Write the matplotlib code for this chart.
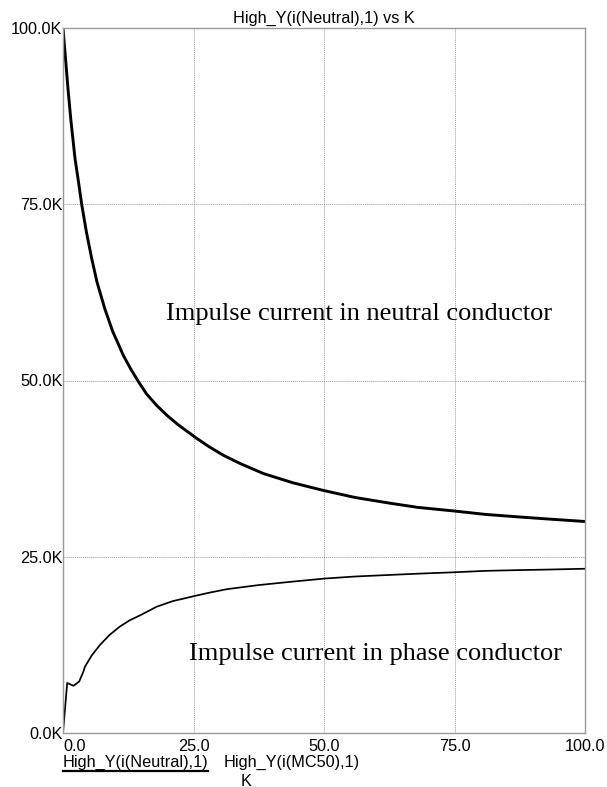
import matplotlib
matplotlib.use("Agg")
import matplotlib.pyplot as plt
from matplotlib.lines import Line2D

# ---- data (K, value in thousands) ----
neutral_k = [0.0, 0.5, 1.0, 1.5, 2.3, 3.0, 3.6, 4.5, 5.5, 6.5, 8.0, 9.5, 11.6, 13.0,
             14.4, 16.0, 17.9, 20.0, 22.1, 25.6, 28.0, 30.7, 34.0, 38.4, 44.0, 49.9,
             56.0, 62.6, 68.0, 74.8, 81.0, 88.2, 94.0, 100.0]
neutral_v = [100.0, 95.5, 91.0, 87.0, 81.5, 78.0, 74.9, 71.0, 67.3, 64.0, 60.2, 57.0,
             53.5, 51.6, 49.9, 48.1, 46.5, 45.0, 43.7, 41.8, 40.6, 39.4, 38.2, 36.8,
             35.5, 34.4, 33.4, 32.6, 32.0, 31.5, 31.0, 30.6, 30.3, 30.0]

phase_k = [0.0, 0.8, 2.0, 3.1, 3.9, 4.2, 5.5, 7.1, 8.9, 10.9, 12.8, 14.8, 17.9, 21.0,
           25.0, 28.0, 31.4, 34.5, 37.7, 43.0, 50.0, 56.0, 62.0, 68.0, 75.0, 81.0,
           87.0, 94.0, 100.0]
phase_v = [0.0, 7.1, 6.7, 7.3, 8.7, 9.4, 11.0, 12.5, 13.9, 15.1, 16.0, 16.7, 17.9, 18.7,
           19.4, 19.9, 20.4, 20.7, 21.0, 21.4, 21.9, 22.2, 22.4, 22.6, 22.8, 23.0,
           23.1, 23.2, 23.3]

x_ticks = [0, 25, 50, 75, 100]
x_labels = ["0.0", "25.0", "50.0", "75.0", "100.0"]
y_ticks = [0, 25, 50, 75, 100]
y_labels = ["0.0K", "25.0K", "50.0K", "75.0K", "100.0K"]

title = "High_Y(i(Neutral),1) vs K"
legend_labels = ["High_Y(i(Neutral),1)", "High_Y(i(MC50),1)"]
xlabel = "K"
ann_neutral = "Impulse current in neutral conductor"
ann_phase = "Impulse current in phase conductor"

W, H = 607, 787
plt.rcParams['font.family'] = ['Liberation Sans', 'DejaVu Sans']
fs = 11.7

fig = plt.figure(figsize=(W / 100, H / 100), dpi=100)
L, R, T, B = 63, 585, 28, 733
ax = fig.add_axes([L / W, (H - B) / H, (R - L) / W, (B - T) / H])

ax.plot(neutral_k, neutral_v, color='black', lw=2.1, solid_joinstyle='round')
ax.plot(phase_k, phase_v, color='black', lw=1.25, solid_joinstyle='round')

ax.set_xlim(0, 100)
ax.set_ylim(0, 100)
ax.set_xticks(x_ticks)
ax.set_xticklabels(x_labels, fontsize=fs)
ax.set_yticks(y_ticks)
ax.set_yticklabels(y_labels, fontsize=fs)
ax.get_xticklabels()[0].set_horizontalalignment('left')
ax.tick_params(axis='both', length=0)
ax.tick_params(axis='x', pad=4)
ax.tick_params(axis='y', pad=0.5)

ax.grid(True, color='#9a9a9a', linestyle=(0, (1, 1)), linewidth=0.7)
for s in ax.spines.values():
    s.set_color('#999999')
    s.set_linewidth(1.0)

ax.set_title(title, fontsize=fs, pad=3.5)

ax.text(19.7, 58.6, ann_neutral, family='Liberation Serif', fontsize=19,
        va='baseline', ha='left')
ax.text(24.1, 10.4, ann_phase, family='Liberation Serif', fontsize=19,
        va='baseline', ha='left')

# legend (PSpice style)
fig.text(63 / W, (H - 767) / H, legend_labels[0], fontsize=fs, va='baseline', ha='left')
fig.text(223.5 / W, (H - 767) / H, legend_labels[1], fontsize=fs, va='baseline', ha='left')
fig.add_artist(Line2D([63 / W, 207.7 / W], [(H - 770.7) / H, (H - 770.7) / H],
                      color='black', lw=1.6, transform=fig.transFigure))
fig.text(246.5 / W, (H - 785.5) / H, xlabel, fontsize=fs, va='baseline', ha='center')

fig.savefig("out.png", dpi=100)
